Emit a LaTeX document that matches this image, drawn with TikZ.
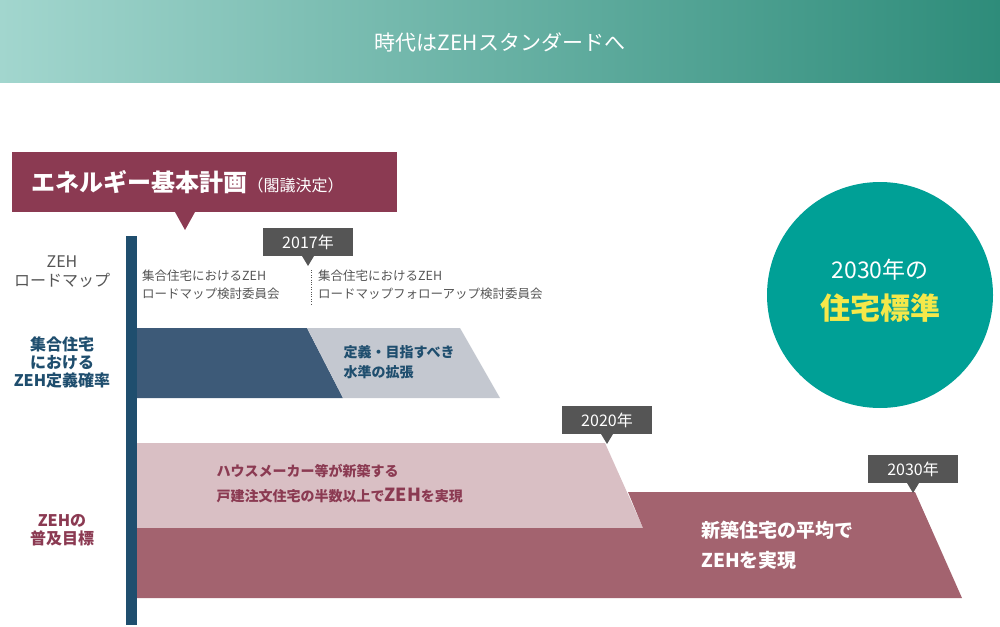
\documentclass[tikz,border=0pt]{standalone}
\usepackage{fontspec}
\setmainfont{Noto Sans CJK JP}
\usetikzlibrary{positioning}
\definecolor{navy}{HTML}{1F4E6E}
\definecolor{navymid}{HTML}{3D5A78}
\definecolor{grayband}{HTML}{C4C8D0}
\definecolor{maroon}{HTML}{8B3A52}
\definecolor{rose}{HTML}{A3636F}
\definecolor{pinkband}{HTML}{D9BFC4}
\definecolor{tealc}{HTML}{00A096}
\definecolor{tagc}{HTML}{555555}
\definecolor{yel}{HTML}{F5E84A}
\definecolor{bannerL}{HTML}{A2D6CE}
\definecolor{bannerR}{HTML}{2E8C7A}
\tikzset{
  yeartag/.style={fill=tagc,text=white,font=\fontsize{16}{18}\selectfont,minimum width=90pt,minimum height=28pt,inner sep=0pt},
  sidelbl/.style={align=center,font=\bfseries\fontsize{16}{18}\selectfont},
  smalltxt/.style={anchor=north west,align=left,text=tagc,font=\fontsize{12.5}{18}\selectfont,inner sep=0pt}
}
\begin{document}
\begin{tikzpicture}[x=1pt,y=-1pt]
            \useasboundingbox (0,0) rectangle (1000,626);
            \shade[left color=bannerL,right color=bannerR] (0,0) rectangle (1000,82);
            \node[text=white,font=\fontsize{21}{23}\selectfont] (banner) at (500,42) {時代はZEHスタンダードへ};

            % plan box
            \fill[maroon] (12,152) rectangle (397,212);
            \fill[maroon] (175,212) -- (195,212) -- (185,230) -- cycle;
            \node[text=white,anchor=west] (plan) at (28,182) {{\bfseries\fontsize{24}{26}\selectfont エネルギー基本計画}{\fontsize{16}{18}\selectfont （閣議決定）}};

            \fill[navy] (126,236) rectangle (137,625);
            \node[sidelbl,text=tagc,font=\fontsize{16}{19}\selectfont] (lroad) at (62,272) {ZEH\\ロードマップ};
            \node[sidelbl,text=navy] (ldef) at (62,362) {集合住宅\\における\\ZEH定義確率};
            \node[sidelbl,text=maroon] (lgoal) at (62,530) {ZEHの\\普及目標};

            % bands
            \fill[navymid] (137,328) -- (307,328) -- (343,398) -- (137,398) -- cycle;
            \fill[grayband] (307,328) -- (460,328) -- (500,398) -- (343,398) -- cycle;
            \node[anchor=west,align=left,text=navy,font=\bfseries\fontsize{14}{20}\selectfont] (expand) at (340,362) {定義・目指すべき\\水準の拡張};

            \fill[pinkband] (137,443) -- (605,443) -- (643,528) -- (137,528) -- cycle;
            \fill[rose] (137,528) -- (643,528) -- (628,492) -- (915,492) -- (962,598) -- (137,598) -- cycle;
            \node[anchor=west,align=left,text=maroon,font=\bfseries\fontsize{14}{25}\selectfont] (half) at (213,484) {ハウスメーカー等が新築する\\戸建注文住宅の半数以上で{\fontsize{18}{20}\selectfont ZEH}を実現};
            \node[anchor=west,align=left,text=white,font=\bfseries\fontsize{19}{30}\selectfont] (avg) at (698,545) {新築住宅の平均で\\ZEHを実現};

            % year tags
            \node[yeartag] (y17) at (308,242) {2017年};
            \fill[tagc] (302,256) -- (314,256) -- (308,266) -- cycle;
            \node[yeartag] (y20) at (607,420) {2020年};
            \fill[tagc] (601,434) -- (613,434) -- (607,444) -- cycle;
            \node[yeartag] (y30) at (913,469) {2030年};
            \fill[tagc] (907,483) -- (919,483) -- (913,493) -- cycle;

            \node[smalltxt] (comA) at (142,270) {集合住宅におけるZEH\\ロードマップ検討委員会};
            \node[smalltxt] (comB) at (318,270) {集合住宅におけるZEH\\ロードマップフォローアップ検討委員会};
            \draw[tagc,dotted] (311,270) -- (311,305);

            \node[circle,fill=tealc,minimum size=226pt] (std) at (880,295) {};
            \node[text=white,font=\fontsize{23}{26}\selectfont] (stdA) at (880,270) {2030年の};
            \node[text=yel,font=\bfseries\fontsize{30}{32}\selectfont] (stdB) at (880,308) {住宅標準};
        \end{tikzpicture}
\end{document}
